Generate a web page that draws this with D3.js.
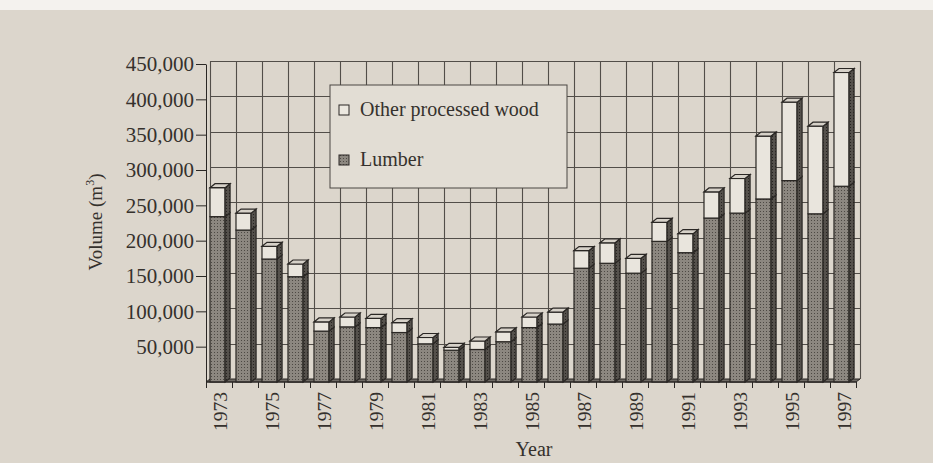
<!DOCTYPE html>
<html>
<head>
<meta charset="utf-8">
<script src="https://cdn.jsdelivr.net/npm/d3@7"></script>
<style>
  body { margin: 0; background: #dcd6cc; }
  svg { display: block; font-family: "Liberation Serif", "DejaVu Serif", serif; }
</style>
</head>
<body>
<svg></svg>
<script>
const width = 933;
const height = 463;

// volumes, m3
const years = [1973, 1974, 1975, 1976, 1977, 1978, 1979, 1980, 1981, 1982, 1983, 1984, 1985,
               1986, 1987, 1988, 1989, 1990, 1991, 1992, 1993, 1994, 1995, 1996, 1997];
const lumber = [234000, 215000, 174000, 149000, 72000, 78000, 77000, 70000, 54000, 45000, 46000, 57000, 77000,
                82000, 161000, 168000, 154000, 199000, 183000, 232000, 239000, 259000, 285000, 238000, 277000];
const otherWood = [41000, 24000, 18000, 18000, 13000, 14000, 13000, 14000, 9000, 4000, 12000, 14000, 15000,
                   17000, 25000, 29000, 21000, 27000, 27000, 37000, 49000, 89000, 111000, 124000, 161000];
const yTicks = [50000, 100000, 150000, 200000, 250000, 300000, 350000, 400000, 450000];
const yearLabels = [1973, 1975, 1977, 1979, 1981, 1983, 1985, 1987, 1989, 1991, 1993, 1995, 1997];
const legendItems = ['Other processed wood', 'Lumber'];

const data = years.map((year, i) => ({year, lumber: lumber[i], other: otherWood[i]}));

const ink = '#2a2724';
const textCol = '#35312d';

const svg = d3.select('svg')
    .attr('width', width)
    .attr('height', height);

// paper
svg.append('rect').attr('width', width).attr('height', height).attr('fill', '#dcd6cc');
svg.append('rect').attr('width', width).attr('height', 10).attr('fill', '#f4f2ee');

const defs = svg.append('defs');
function dots(id, bg, fg) {
  const p = defs.append('pattern')
      .attr('id', id)
      .attr('patternUnits', 'userSpaceOnUse')
      .attr('width', 3).attr('height', 3);
  p.append('rect').attr('width', 3).attr('height', 3).attr('fill', bg);
  p.append('rect').attr('x', 1).attr('y', 1).attr('width', 1).attr('height', 1).attr('fill', fg);
}
dots('lumberDots', '#8c8780', '#4d4944');
dots('sideDots', '#55514c', '#262320');

const x = d3.scaleBand().domain(years).range([206, 856]);
const y = d3.scaleLinear().domain([0, 450000]).range([382, 64]);

// back wall offset
const wx = 4, wy = -3;

const grid = svg.append('g').attr('stroke', '#524e49').attr('stroke-width', 1.1);
grid.selectAll('.vgrid')
  .data(years.concat(['end']))
  .join('line')
    .attr('x1', d => (d === 'end' ? x.range()[1] : x(d)) + wx + 0.5)
    .attr('x2', d => (d === 'end' ? x.range()[1] : x(d)) + wx + 0.5)
    .attr('y1', y(450000) + wy)
    .attr('y2', y(0) + wy);
grid.selectAll('.hgrid')
  .data(yTicks)
  .join('line')
    .attr('x1', x.range()[0] + wx)
    .attr('x2', x.range()[1] + wx)
    .attr('y1', d => Math.round(y(d) + wy) + 0.5)
    .attr('y2', d => Math.round(y(d) + wy) + 0.5);

// floor
svg.append('path')
    .attr('d', `M${x.range()[0]},${y(0)} L${x.range()[1]},${y(0)} L${x.range()[1] + wx},${y(0) + wy} L${x.range()[0] + wx},${y(0) + wy} Z`)
    .attr('fill', '#6d6963')
    .attr('stroke', ink);

// legend
const legend = svg.append('g').attr('transform', 'translate(330,85)');
legend.append('rect')
    .attr('width', 237).attr('height', 103)
    .attr('fill', '#e2ddd4')
    .attr('stroke', '#4a4642');
legend.selectAll('.sw')
  .data(legendItems)
  .join('rect')
    .attr('x', 9).attr('y', (d, i) => 20 + i * 50)
    .attr('width', 10).attr('height', 10)
    .attr('fill', (d, i) => i === 0 ? '#ece8e0' : 'url(#lumberDots)')
    .attr('stroke', ink);
legend.selectAll('.lt')
  .data(legendItems)
  .join('text')
    .attr('x', 30).attr('y', (d, i) => 31 + i * 50)
    .attr('font-size', 20)
    .attr('fill', textCol)
    .text(d => d);

// bars
const stack = d3.stack().keys(['lumber', 'other'])(data);
const bw = x.bandwidth() * 0.58;
const bx = d => x(d.data.year) + 4;
const dx = 5, dy = -4;

const layers = svg.append('g').selectAll('g')
  .data(stack)
  .join('g');

layers.selectAll('.front')
  .data(d => d)
  .join('rect')
    .attr('x', bx)
    .attr('y', d => y(d[1]))
    .attr('width', bw)
    .attr('height', d => y(d[0]) - y(d[1]))
    .attr('fill', function() { return d3.select(this.parentNode).datum().key === 'lumber' ? 'url(#lumberDots)' : '#e9e5dd'; })
    .attr('stroke', ink)
    .attr('stroke-width', 1.2);

layers.selectAll('.side')
  .data(d => d)
  .join('path')
    .attr('d', d => {
      const x1 = bx(d) + bw;
      return `M${x1},${y(d[1])} L${x1 + dx},${y(d[1]) + dy} L${x1 + dx},${y(d[0]) + dy} L${x1},${y(d[0])} Z`;
    })
    .attr('fill', 'url(#sideDots)')
    .attr('stroke', ink)
    .attr('stroke-width', 1.2);

// tops of the bars
svg.append('g').selectAll('path')
  .data(stack[1])
  .join('path')
    .attr('d', d => {
      const x0 = bx(d), yt = y(d[1]);
      return `M${x0},${yt} L${x0 + dx},${yt + dy} L${x0 + bw + dx},${yt + dy} L${x0 + bw},${yt} Z`;
    })
    .attr('fill', '#d6d1c8')
    .attr('stroke', ink)
    .attr('stroke-width', 1.2);

// y axis
const yAxis = svg.append('g')
    .attr('transform', `translate(${x.range()[0]},0)`)
    .call(d3.axisLeft(y).tickValues(yTicks).tickFormat(d3.format(',')).tickSize(10).tickPadding(2).tickSizeOuter(0));
yAxis.select('.domain').attr('stroke', ink);
yAxis.selectAll('.tick line').attr('stroke', ink);
yAxis.selectAll('text')
    .attr('font-family', '"Liberation Serif", serif')
    .attr('font-size', 21)
    .attr('fill', textCol);

// x axis
svg.append('line')
    .attr('x1', x.range()[0]).attr('x2', x.range()[1])
    .attr('y1', y(0)).attr('y2', y(0))
    .attr('stroke', ink);
svg.append('g').selectAll('line')
  .data(years.concat(['end']))
  .join('line')
    .attr('x1', d => (d === 'end' ? x.range()[1] : x(d)) + 0.5)
    .attr('x2', d => (d === 'end' ? x.range()[1] : x(d)) + 0.5)
    .attr('y1', y(0)).attr('y2', y(0) + 6)
    .attr('stroke', ink);
svg.append('g').selectAll('text')
  .data(yearLabels)
  .join('text')
    .attr('transform', d => `translate(${x(d) + x.bandwidth() / 2 + 1},${y(0) + 10}) rotate(-90)`)
    .attr('text-anchor', 'end')
    .attr('dy', '0.35em')
    .attr('font-size', 19.5)
    .attr('fill', textCol)
    .text(d => d);

svg.append('text')
    .attr('x', 534).attr('y', 456)
    .attr('text-anchor', 'middle')
    .attr('font-size', 20)
    .attr('fill', textCol)
    .text('Year');

const vl = svg.append('text')
    .attr('transform', 'translate(102,222) rotate(-90)')
    .attr('text-anchor', 'middle')
    .attr('font-size', 19)
    .attr('fill', textCol);
vl.append('tspan').text('Volume (m');
vl.append('tspan').attr('font-size', 12).attr('dy', -8).text('3');
vl.append('tspan').attr('dy', 8).text(')');
</script>
</body>
</html>
